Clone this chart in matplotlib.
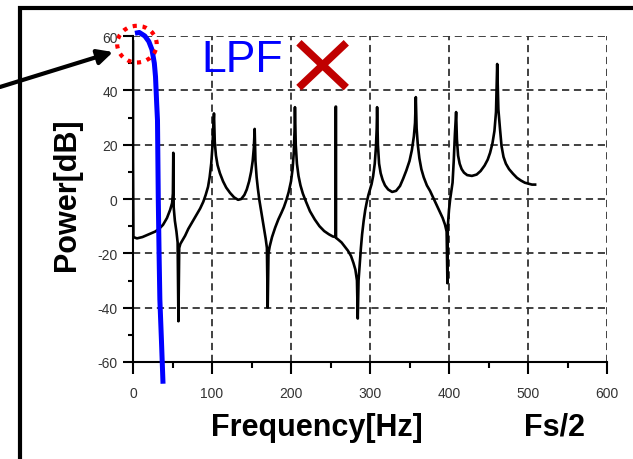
import numpy as np
import matplotlib
matplotlib.use("Agg")
import matplotlib.pyplot as plt
from matplotlib.patches import Ellipse, Rectangle

plt.rcParams['font.family'] = ['Liberation Sans', 'DejaVu Sans']
plt.rcParams['axes.unicode_minus'] = False

# Спектр: частота [Гц], мощность [дБ]
freq = [0, 0, 0.5, 5, 12, 20, 28, 33, 38, 43, 47, 49.5, 50.5, 51, 51.5, 53, 55, 56.5, 57.5, 58.5,
        60, 62, 66, 70, 75, 80, 85, 89, 92, 95, 97, 99, 100.5, 101.5, 102.5,
        103.5, 105, 107, 110, 114, 118, 123, 128, 133, 137, 141, 144, 147, 149.5, 151.5, 153, 154,
        155, 156.5, 158, 160, 162, 164, 166, 168, 169.5, 170.5, 171.5, 173, 176, 180, 184, 188, 191,
        194, 197, 200, 202, 203.5, 204.5, 205, 206, 207.5, 209.5, 212, 215, 219, 224, 230, 236, 242,
        248, 253, 256.5, 256.5, 257, 257, 260, 264, 268, 272, 276, 279, 281.5, 283.5, 284.5, 285.5,
        287, 288.5, 290, 292, 294, 296, 298, 300, 302, 304, 306, 307.5, 308.5, 309, 310, 311.5, 313.5,
        316, 319, 323, 328, 333, 338, 342, 346, 350, 353, 355.5, 357, 358, 359, 360.5, 362.5, 365,
        368, 372, 376, 380, 384, 388, 392, 395, 397, 398, 398.5, 400, 401.5, 403, 404.5, 406, 407.5,
        409, 410, 411.5, 413.5, 416, 419, 423, 429, 435, 440, 445, 449, 452, 455, 457.5, 459.5, 461,
        462.5, 464.5, 466.5, 469, 472, 476, 481, 486, 491, 496, 501, 505, 509]
power = [58, 15, -14, -14.5, -14, -13, -12, -11, -9.5, -7, -4, -1.5, 2, 17, -3, -8, -12, -16, -45, -18,
         -16.5, -15.5, -13.5, -11, -8.5, -6, -3.5, -1, 1.5, 4.5, 8, 13, 19, 26, 31.5,
         21, 16, 12.5, 9.5, 6.5, 4.2, 2.2, 0.6, -0.3, 0, 1.5, 3.5, 6.5, 10, 14, 19, 25.8,
         14, 8, 4, -0.5, -4, -7.5, -11, -14.7, -18, -40, -20, -17.5, -14, -10.5, -7.5, -5, -3,
         -0.5, 2.5, 6.5, 11, 17, 25, 33.8, 20, 13, 8.5, 5, 2, -1, -4.5, -7.5, -10, -11.8,
         -13, -13.8, -14, 34, 34, -14.3, -15, -16, -17.5, -19, -21, -23.5, -26, -30, -44, -30,
         -24, -18, -13, -8, -4, -1, 1.5, 3.5, 5.5, 8.5, 13, 19, 26, 33.8, 20, 13, 9.5,
         7, 5, 3.5, 2.6, 3, 4.8, 7.5, 10.5, 14, 18, 23, 28, 37.5, 26, 20, 15, 11,
         8, 5, 3, 0.5, -2, -4.5, -7, -9.5, -12, -31, -10, -4, 0, 3, 6, 14, 24,
         32, 22, 16, 13, 11, 9.7, 8.8, 8.5, 9, 10.3, 12.3, 14.5, 17, 20.5, 25, 32, 49.7,
         33, 26, 19.5, 15.5, 13, 11, 9.3, 7.8, 6.8, 6, 5.6, 5.3, 5.3]

# АЧХ ФНЧ (синяя кривая)
lpf_freq = [2.5, 8, 15, 20, 24, 27, 28.5, 30, 31, 32, 33, 34, 36, 38]
lpf_power = [61, 61.3, 60, 58, 55, 50, 45, 35, 29, 0, -20, -37, -52, -68]

xticks = [0, 100, 200, 300, 400, 500, 600]
yticks = [-60, -40, -20, 0, 20, 40, 60]

fig = plt.figure(figsize=(6.33, 4.6), dpi=100)
ax = fig.add_axes([133 / 633, 1 - 363 / 460, 474 / 633, 326 / 460])

ax.plot(freq, power, color='black', lw=1.9)
ax.plot(lpf_freq, lpf_power, color='#0000ff', lw=3.6, clip_on=False, zorder=5,
        solid_capstyle='butt')

ax.set_xlim(0, 600)
ax.set_ylim(-60, 60)
ax.set_xticks(xticks)
ax.set_yticks(yticks)
ax.set_xticks(np.arange(50, 600, 100), minor=True)
ax.set_yticks(np.arange(-50, 60, 20), minor=True)

for s in ['top', 'right']:
    ax.spines[s].set_visible(False)
for s in ['left', 'bottom']:
    ax.spines[s].set_linewidth(1.5)

ax.grid(True, which='major', color='#333333', lw=1.3, dashes=(4, 2.6))
ax.tick_params(axis='x', which='major', direction='out', length=8.5, width=1.5, pad=8.5,
               labelsize=10, labelcolor='#333333')
ax.tick_params(axis='x', which='minor', direction='out', length=4.5, width=1.5)
ax.tick_params(axis='y', which='major', direction='out', length=7, width=1.5, pad=4,
               labelsize=10, labelcolor='#333333')
ax.tick_params(axis='y', which='minor', direction='out', length=3.5, width=1.5)

# подписи осей
fig.text(317 / 633, 1 - 428 / 460, 'Frequency[Hz]', fontsize=22, fontweight='bold',
         ha='center', va='center')
fig.text(555 / 633, 1 - 428 / 460, 'Fs/2', fontsize=22, fontweight='bold',
         ha='center', va='center')
fig.text(67 / 633, 1 - 195 / 460, 'Power[dB]', fontsize=22, fontweight='bold',
         rotation=90, ha='center', va='center')

# LPF и крестик
ax.text(86, 51.5, 'LPF', fontsize=32, color='#0000ff', ha='left', va='center')
ax.plot([210, 270], [57.5, 41], color='#c00000', lw=5.5, clip_on=False, solid_capstyle='butt')
ax.plot([210, 270], [41, 57.5], color='#c00000', lw=5.5, clip_on=False, solid_capstyle='butt')

# красный пунктирный круг
ax.add_patch(Ellipse((5, 57), 50, 13.5, fill=False, edgecolor='red', lw=3,
                     linestyle=(0, (1, 1.4)), clip_on=False, zorder=6))

# стрелка
ax.annotate('', xy=(113 / 633, 1 - 53 / 460), xycoords='figure fraction',
            xytext=(0, 1 - 88 / 460), textcoords='figure fraction',
            arrowprops=dict(arrowstyle='-|>,head_length=0.9,head_width=0.45', color='black', lw=3,
                            shrinkA=0, shrinkB=0))

# внешняя рамка
fig.add_artist(Rectangle((20.5 / 633, -0.1), 1.0, 1.1 - 8.5 / 460, transform=fig.transFigure,
                         fill=False, edgecolor='black', lw=3))

fig.savefig('out.png', dpi=100)
